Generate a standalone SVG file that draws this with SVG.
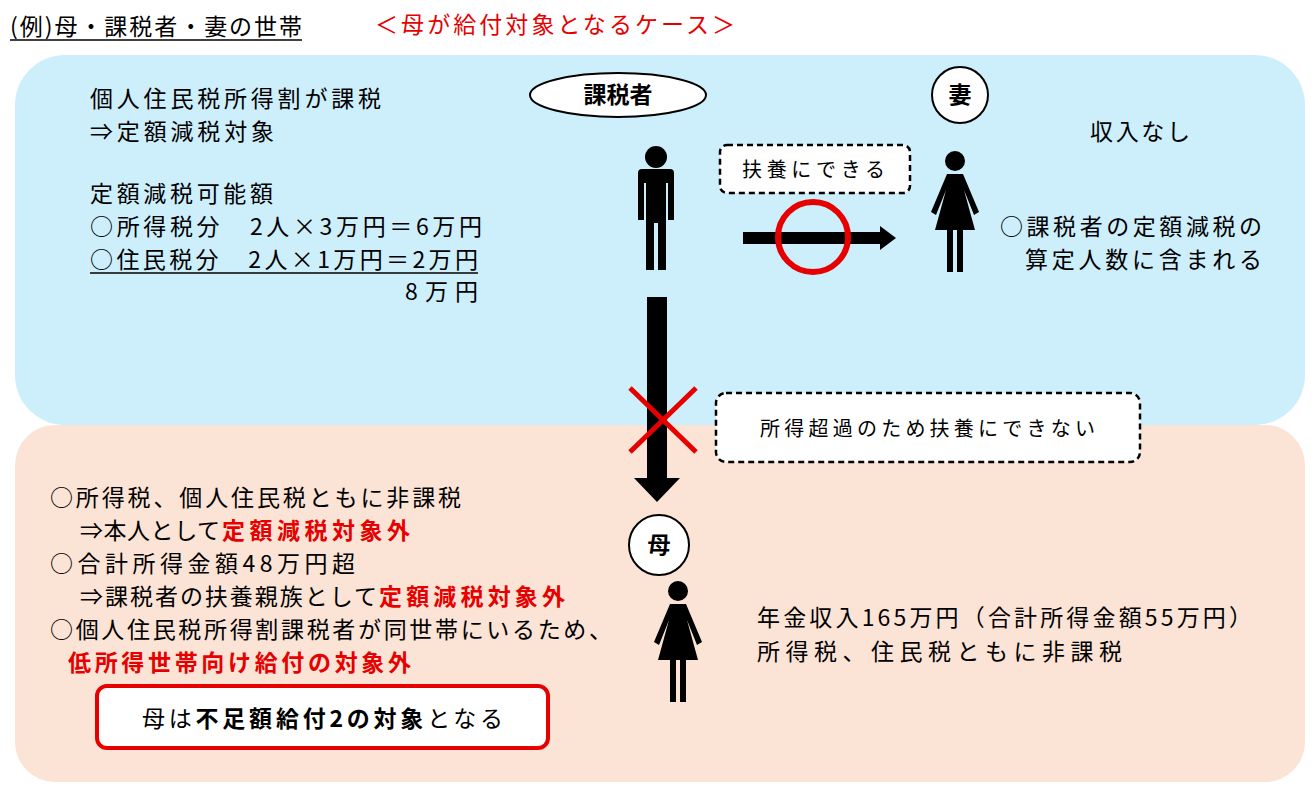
<svg xmlns="http://www.w3.org/2000/svg" width="1315" height="793" viewBox="0 0 1315 793">
<style>
text{font-family:"Noto Sans CJK JP","Noto Sans",sans-serif;font-size:23px;fill:#000}
.r{fill:#e60000}
.b{font-weight:bold}
.dash{fill:#fff;stroke:#000;stroke-width:2.5;stroke-dasharray:6 4}
</style>
<defs>
<g id="man">
<circle cx="0" cy="12" r="11"/>
<path d="M-18 28 Q-18 24 -14 24 L14 24 Q18 24 18 28 L18 75 L12 75 L12 38 L10 38 L10 125 L2 125 L2 78 L-2 78 L-2 125 L-10 125 L-10 38 L-12 38 L-12 75 L-18 75 Z"/>
</g>
<g id="woman">
<circle cx="0" cy="11" r="10"/>
<path d="M-8 24 L8 24 L24 62 L19 65 L9 40 L20 80 L8 80 L8 122 L2 122 L2 80 L-2 80 L-2 122 L-8 122 L-8 80 L-20 80 L-9 40 L-19 65 L-24 62 Z"/>
</g>
</defs>
<g id="title">
<text x="10" y="35" textLength="292">(例)母・課税者・妻の世帯</text>
<line x1="10" y1="40" x2="302" y2="40" stroke="#000" stroke-width="1.5"/>
<text x="375" y="33" class="r" textLength="360">＜母が給付対象となるケース＞</text>
</g>
<g id="blue"><rect x="15" y="55" width="1290" height="370" rx="50" fill="#cdeefb"/></g>
<g id="peach"><rect x="15" y="425" width="1290" height="357" rx="40" fill="#fbe3d6"/></g>
<g id="topleft">
<text x="90" y="107" textLength="291">個人住民税所得割が課税</text>
<text x="90" y="140" textLength="184">⇒定額減税対象</text>
<text x="90" y="202" textLength="183">定額減税可能額</text>
<text x="90" y="235" textLength="392">○所得税分　2人×3万円＝6万円</text>
<text x="90" y="268" textLength="388">○住民税分　2人×1万円＝2万円</text>
<line x1="90" y1="273" x2="478" y2="273" stroke="#000" stroke-width="1.5"/>
<text x="405" y="300" textLength="73">8万円</text>
</g>
<g id="kazeisha">
<ellipse cx="618" cy="95" rx="88" ry="22" fill="#fff" stroke="#000" stroke-width="2"/>
<text x="618" y="103" text-anchor="middle" class="b">課税者</text>
<use href="#man" x="656" y="145"/>
</g>
<g id="tsuma">
<circle cx="960" cy="95" r="28" fill="#fff" stroke="#000" stroke-width="2"/>
<text x="960" y="103" text-anchor="middle" class="b">妻</text>
<use href="#woman" x="955" y="150"/>
<text x="1090" y="140" textLength="100">収入なし</text>
<text x="1000" y="235" textLength="262">○課税者の定額減税の</text>
<text x="1025" y="268" textLength="237">算定人数に含まれる</text>
</g>
<g id="fuyou">
<rect x="720" y="145" width="190" height="48" rx="7" class="dash"/>
<text x="742" y="177" style="font-size:20px" textLength="143">扶養にできる</text>
</g>
<g id="fuyou-ng">
<rect x="716" y="393" width="424" height="69" rx="10" class="dash"/>
<text x="760" y="436" style="font-size:20px" textLength="335">所得超過のため扶養にできない</text>
</g>
<g id="haha">
<circle cx="659" cy="545" r="30" fill="#fff" stroke="#000" stroke-width="2"/>
<text x="659" y="553" text-anchor="middle" class="b">母</text>
<use href="#woman" x="678" y="580"/>
<text x="757" y="626" textLength="495">年金収入165万円（合計所得金額55万円）</text>
<text x="757" y="660" textLength="365">所得税、住民税ともに非課税</text>
</g>
<g id="bottomleft">
<text x="50" y="506" textLength="411">○所得税、個人住民税ともに非課税</text>
<text x="80" y="539"><tspan textLength="140">⇒本人として</tspan><tspan class="r b" x="222" textLength="188">定額減税対象外</tspan></text>
<text x="50" y="572" textLength="305">○合計所得金額48万円超</text>
<text x="80" y="605"><tspan textLength="297">⇒課税者の扶養親族として</tspan><tspan class="r b" x="379" textLength="186">定額減税対象外</tspan></text>
<text x="50" y="638" textLength="562">○個人住民税所得割課税者が同世帯にいるため、</text>
<text x="68" y="671" class="r b" textLength="343">低所得世帯向け給付の対象外</text>
</g>
<g id="result">
<rect x="97" y="686" width="451" height="62" rx="10" fill="#fff" stroke="#e60000" stroke-width="4"/>
<text x="142" y="727" textLength="361">母は<tspan class="b">不足額給付2の対象</tspan>となる</text>
</g>
<g id="connectors">
<path d="M743 232 L880 232 L880 226 L896 238 L880 250 L880 244 L743 244 Z" fill="#000"/>
<circle cx="813" cy="237" r="35" fill="none" stroke="#e60000" stroke-width="6"/>
<path d="M647 297 L667 297 L667 478 L680 478 L657 502 L634 478 L647 478 Z" fill="#000"/>
<path d="M630 388 L696 452 M696 388 L630 452" stroke="#e60000" stroke-width="5"/>
</g>
</svg>
